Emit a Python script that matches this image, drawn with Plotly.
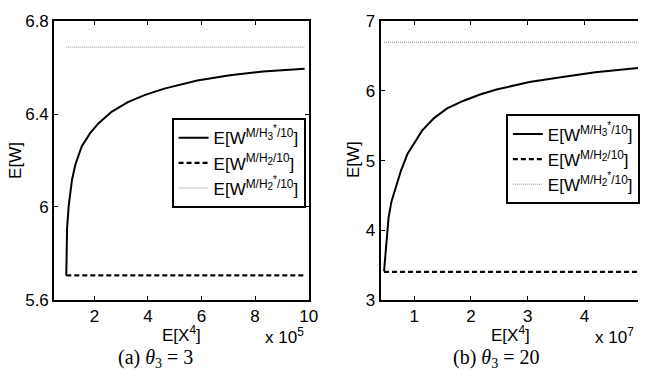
import plotly.graph_objects as go

# ---- data ----
x_a = [0.95, 0.98, 1.04, 1.16, 1.29, 1.53, 1.84, 2.15, 2.64, 3.25, 3.87, 4.61, 5.84, 7.06, 8.3, 9.85]
w_h3_a = [5.705, 5.91, 6.005, 6.115, 6.183, 6.262, 6.318, 6.360, 6.410, 6.452, 6.482, 6.510, 6.545, 6.568, 6.584, 6.596]
x_flat_a = [0.95, 9.85]
w_h2_a = [5.705, 5.705]
w_h2s_a = [6.689, 6.689]

x_b = [0.47, 0.51, 0.55, 0.60, 0.68, 0.77, 0.88, 1.06, 1.14, 1.35, 1.58, 1.87, 2.16, 2.45, 2.74, 3.03, 3.61, 4.19, 4.95]
w_h3_b = [3.41, 3.82, 4.18, 4.41, 4.64, 4.86, 5.09, 5.34, 5.43, 5.61, 5.75, 5.86, 5.95, 6.02, 6.08, 6.13, 6.20, 6.27, 6.33]
x_flat_b = [0.47, 5.0]
w_h2_b = [3.40, 3.40]
w_h2s_b = [6.70, 6.70]

ticks_xa = [2, 4, 6, 8, 10]
ticks_ya = [5.6, 6.0, 6.4, 6.8]
ticklabels_ya = ["5.6", "6", "6.4", "6.8"]
ticks_xb = [1, 2, 3, 4]
ticks_yb = [3, 4, 5, 6, 7]

SUBSTYLE = "font-size:10px"
names = ["E[W<sup>M/H<sub><span style='%s'>3</span></sub><sup><span style='%s'>*</span></sup>/10</sup>]" % (SUBSTYLE, SUBSTYLE),
         "E[W<sup>M/H<sub><span style='%s'>2</span></sub>/10</sup>]" % SUBSTYLE,
         "E[W<sup>M/H<sub><span style='%s'>2</span></sub><sup><span style='%s'>*</span></sup>/10</sup>]" % (SUBSTYLE, SUBSTYLE)]

FONT = "Liberation Sans"
W, H = 647, 382

fig = go.Figure()

def add_panel(xs, ys, xf, y2, y2s, xa, ya, leg):
    fig.add_trace(go.Scatter(x=xs, y=ys, mode="lines", name=names[0],
                             line=dict(color="black", width=2), xaxis=xa, yaxis=ya, legend=leg))
    fig.add_trace(go.Scatter(x=xf, y=y2, mode="lines", name=names[1],
                             line=dict(color="black", width=2.2, dash="5px,3px"), xaxis=xa, yaxis=ya, legend=leg))
    fig.add_trace(go.Scatter(x=xf, y=y2s, mode="lines", name=names[2],
                             line=dict(color="#8c8c8c", width=1, dash="1px,1px"), xaxis=xa, yaxis=ya, legend=leg))

add_panel(x_a, w_h3_a, x_flat_a, w_h2_a, w_h2s_a, "x", "y", "legend")
add_panel(x_b, w_h3_b, x_flat_b, w_h2_b, w_h2s_b, "x2", "y2", "legend2")

ydom = [1 - 306 / H, 1 - 13 / H]
axis_common = dict(showgrid=False, zeroline=False, showline=True, linecolor="black", linewidth=2,
                   ticks="inside", ticklen=4, tickwidth=1, tickcolor="black",
                   tickfont=dict(family=FONT, size=17, color="black"))

legend_common = dict(xanchor="left", yanchor="top", bordercolor="black", borderwidth=2, bgcolor="white",
                     font=dict(family=FONT, size=17, color="black"), tracegroupgap=0, itemwidth=30)

fig.update_layout(
    width=W, height=H, margin=dict(l=0, r=0, t=0, b=0),
    paper_bgcolor="white", plot_bgcolor="white",
    font=dict(family=FONT, size=16, color="black"),
    xaxis=dict(domain=[55 / W, 313 / W], range=[0.5, 10], tickvals=ticks_xa, mirror="ticks", **axis_common),
    yaxis=dict(domain=ydom, range=[5.6, 6.8], tickvals=ticks_ya, ticktext=ticklabels_ya, mirror="ticks",
               anchor="x", **axis_common),
    xaxis2=dict(domain=[386 / W, 1.0], range=[0.41, 4.94], tickvals=ticks_xb, mirror="ticks",
                anchor="y2", **axis_common),
    yaxis2=dict(domain=ydom, range=[3, 7], tickvals=ticks_yb, mirror=False, anchor="x2", **axis_common),
    legend=dict(x=174 / W, y=1 - 115 / H, **legend_common),
    legend2=dict(x=513 / W, y=1 - 111 / H, **legend_common),
    showlegend=True,
)

ann = []
def text(x, y, s, size=17, family=FONT, angle=0, xanchor="center"):
    ann.append(dict(x=x / W, y=1 - y / H, xref="paper", yref="paper", text=s, showarrow=False,
                    font=dict(family=family, size=size, color="black"), textangle=angle,
                    xanchor=xanchor, yanchor="middle"))

text(15, 159, "E[W]", angle=-90)
text(358, 159, "E[W]", angle=-90)
text(184, 342, "E[X<sup>4</sup>]")
text(518, 342, "E[X<sup>4</sup>]")
text(289, 344, "x 10<sup>5</sup>")
text(601, 344, "x 10<sup>7</sup>", xanchor="left")
SERIF = "Liberation Serif"
text(158, 368, "(a) <i>θ</i><sub>3</sub> = 3", size=20, family=SERIF)
text(503, 368, "(b) <i>θ</i><sub>3</sub> = 20", size=20, family=SERIF)
fig.update_layout(annotations=ann)

fig.write_html("out.html")
